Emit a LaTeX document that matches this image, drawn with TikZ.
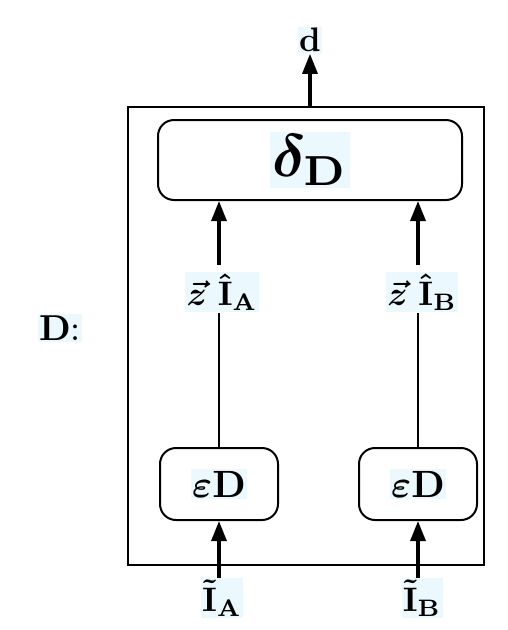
\documentclass[tikz,border=0pt]{standalone}
\usetikzlibrary{arrows.meta}
\begin{document}
\begin{tikzpicture}[x=1pt,y=-1pt,
  frame/.style={draw,line width=2pt},
  module/.style={draw,line width=2pt,rounded corners=16pt,fill=white},
  hl/.style={fill=cyan!8,inner sep=0.4pt,font=\boldmath},
  arr/.style={line width=3.2pt,-{Triangle[length=20pt,width=15pt]}},
  link/.style={line width=1.5pt}]
\useasboundingbox (0,0) rectangle (507,630);
% outer frame of D
\node[frame,minimum width=356pt,minimum height=458pt,inner sep=0] (frame) at (306,336) {};
% modules
\node[module,minimum width=304pt,minimum height=80pt] (delta) at (310,160) {};
\node[hl,scale=6] at (delta) {$\delta_{\mathbf{D}}$};
\node[module,minimum width=118pt,minimum height=72pt] (epsA) at (219,484) {};
\node[hl,scale=3.8] at (epsA) {$\varepsilon\mathbf{D}$};
\node[module,minimum width=118pt,minimum height=72pt] (epsB) at (418,484) {};
\node[hl,scale=3.8] at (epsB) {$\varepsilon\mathbf{D}$};
% labels
\node[hl,scale=3.4] (out) at (310,40) {$\mathbf{d}$};
\node[hl,scale=3.6] (dlab) at (60,328) {$\mathbf{D}$:};
\node[hl,scale=3.4] (zA) at (222,292) {$\vec{z}\;\hat{\mathbf{I}}_{\mathbf{A}}$};
\node[hl,scale=3.4] (zB) at (422,292) {$\vec{z}\;\hat{\mathbf{I}}_{\mathbf{B}}$};
\node[hl,scale=3.4] (iA) at (222,598) {$\tilde{\mathbf{I}}_{\mathbf{A}}$};
\node[hl,scale=3.4] (iB) at (422,598) {$\tilde{\mathbf{I}}_{\mathbf{B}}$};
% connectors
\draw[arr] (frame.north -| out) -- (out.south);
\draw[arr] (delta.south -| epsA.north) ++(0,64) -- (delta.south -| epsA.north);
\draw[arr] (delta.south -| epsB.north) ++(0,64) -- (delta.south -| epsB.north);
\draw[link] (epsA.north) -- (epsA.north |- zA.south);
\draw[link] (epsB.north) -- (epsB.north |- zB.south);
\draw[arr] (iA.north -| epsA.south) -- (epsA.south);
\draw[arr] (iB.north -| epsB.south) -- (epsB.south);
\end{tikzpicture}
\end{document}
